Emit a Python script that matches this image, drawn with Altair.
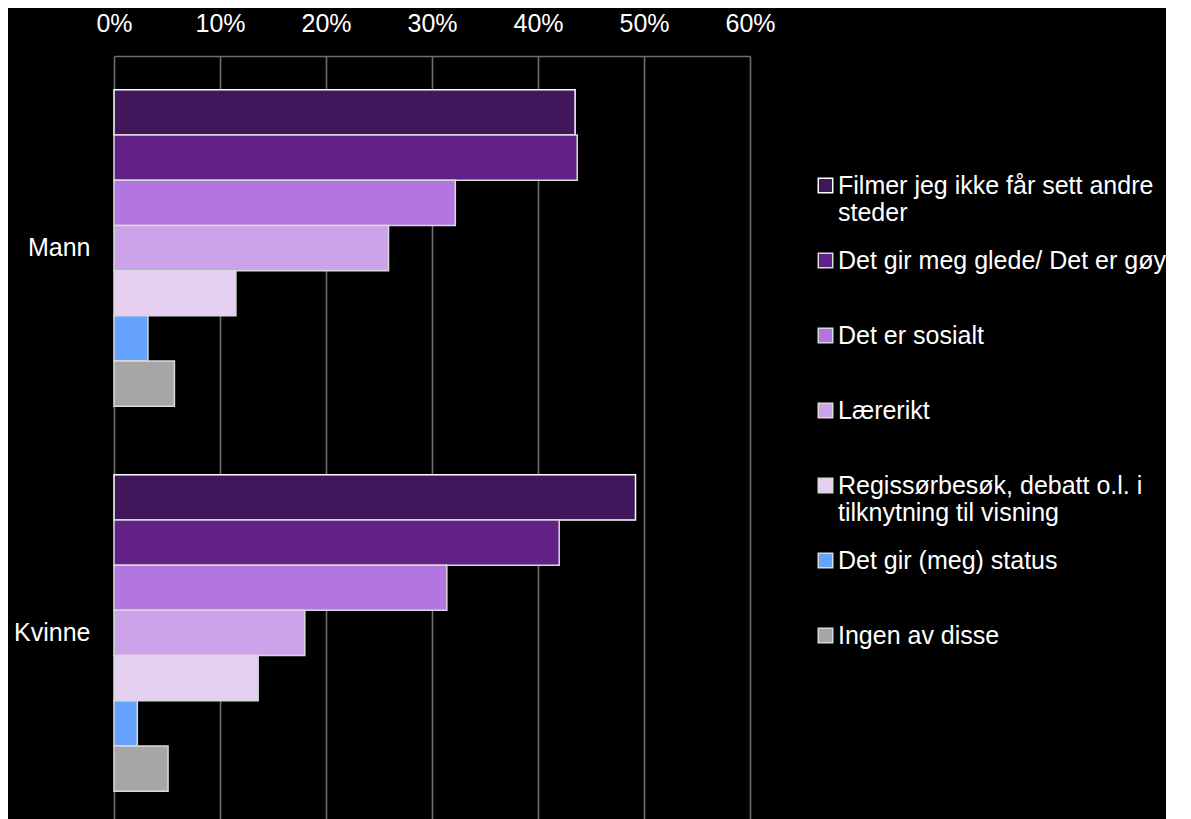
import altair as alt
import pandas as pd

categories = [
    "Filmer jeg ikke får sett andre steder",
    "Det gir meg glede/ Det er gøy",
    "Det er sosialt",
    "Lærerikt",
    "Regissørbesøk, debatt o.l. i tilknytning til visning",
    "Det gir (meg) status",
    "Ingen av disse",
]
groups = ["Mann", "Kvinne"]
mann = [0.435, 0.437, 0.322, 0.259, 0.115, 0.032, 0.057]
kvinne = [0.492, 0.420, 0.314, 0.180, 0.136, 0.022, 0.051]
colors = ["#41175C", "#612187", "#B376E0", "#CCA3E8", "#E6D0F2", "#66A3FF", "#A6A6A6"]
strokes = ["#FFFFFF", "#D9D9D9", "#D9D9D9", "#D9D9D9", "#D9D9D9", "#D9D9D9", "#D9D9D9"]
tick_values = [0, 0.1, 0.2, 0.3, 0.4, 0.5, 0.6]

rows = []
for g, vals in zip(groups, [mann, kvinne]):
    for c, v in zip(categories, vals):
        rows.append({"gruppe": g, "kategori": c, "andel": v})
df = pd.DataFrame(rows)

FONT = "Liberation Sans, Arial, sans-serif"

label_expr = (
    "datum.label == 'Filmer jeg ikke får sett andre steder' ? ['Filmer jeg ikke får sett andre', 'steder'] : "
    "datum.label == 'Regissørbesøk, debatt o.l. i tilknytning til visning' ? ['Regissørbesøk, debatt o.l. i', 'tilknytning til visning'] : "
    "datum.label"
)

chart = (
    alt.Chart(df)
    .mark_bar(strokeWidth=1.5)
    .encode(
        x=alt.X(
            "andel:Q",
            scale=alt.Scale(domain=[0, 0.6], nice=False),
            axis=alt.Axis(
                orient="top",
                values=tick_values,
                format=".0%",
                title=None,
                grid=True,
                gridColor="#6E6E6E",
                gridWidth=1.6,
                domain=True,
                domainColor="#6E6E6E",
                domainWidth=1.6,
                ticks=False,
                tickSize=0,
                labelFlush=False,
                labelPadding=20,
                labelColor="white",
                labelFont=FONT,
                labelFontSize=25,
                minExtent=48,
                maxExtent=48,
            ),
        ),
        y=alt.Y(
            "gruppe:N",
            sort=groups,
            scale=alt.Scale(range=[0, 769], paddingInner=0.178, paddingOuter=0.088),
            axis=alt.Axis(
                title=None,
                ticks=False,
                domain=False,
                labelPadding=24,
                labelColor="white",
                labelFont=FONT,
                labelFontSize=25,
                minExtent=106,
                maxExtent=106,
            ),
        ),
        yOffset=alt.YOffset("kategori:N", sort=categories),
        color=alt.Color(
            "kategori:N",
            sort=categories,
            scale=alt.Scale(domain=categories, range=colors),
            legend=alt.Legend(
                title=None,
                orient="none",
                legendX=699,
                legendY=117,
                direction="vertical",
                symbolType="square",
                symbolSize=210,
                symbolStrokeColor="white",
                symbolStrokeWidth=1.5,
                labelColor="white",
                labelFont=FONT,
                labelFontSize=25,
                labelLimit=0,
                labelOffset=0,
                labelExpr=label_expr,
                gridAlign="all",
                rowPadding=22,
            ),
        ),
        stroke=alt.Stroke(
            "kategori:N",
            sort=categories,
            scale=alt.Scale(domain=categories, range=strokes),
            legend=None,
        ),
    )
    .properties(width=636, height=750, padding=0, background="black")
    .configure_view(stroke=None)
)

chart.save("out.html", embed_options={"renderer": "svg", "actions": False})
